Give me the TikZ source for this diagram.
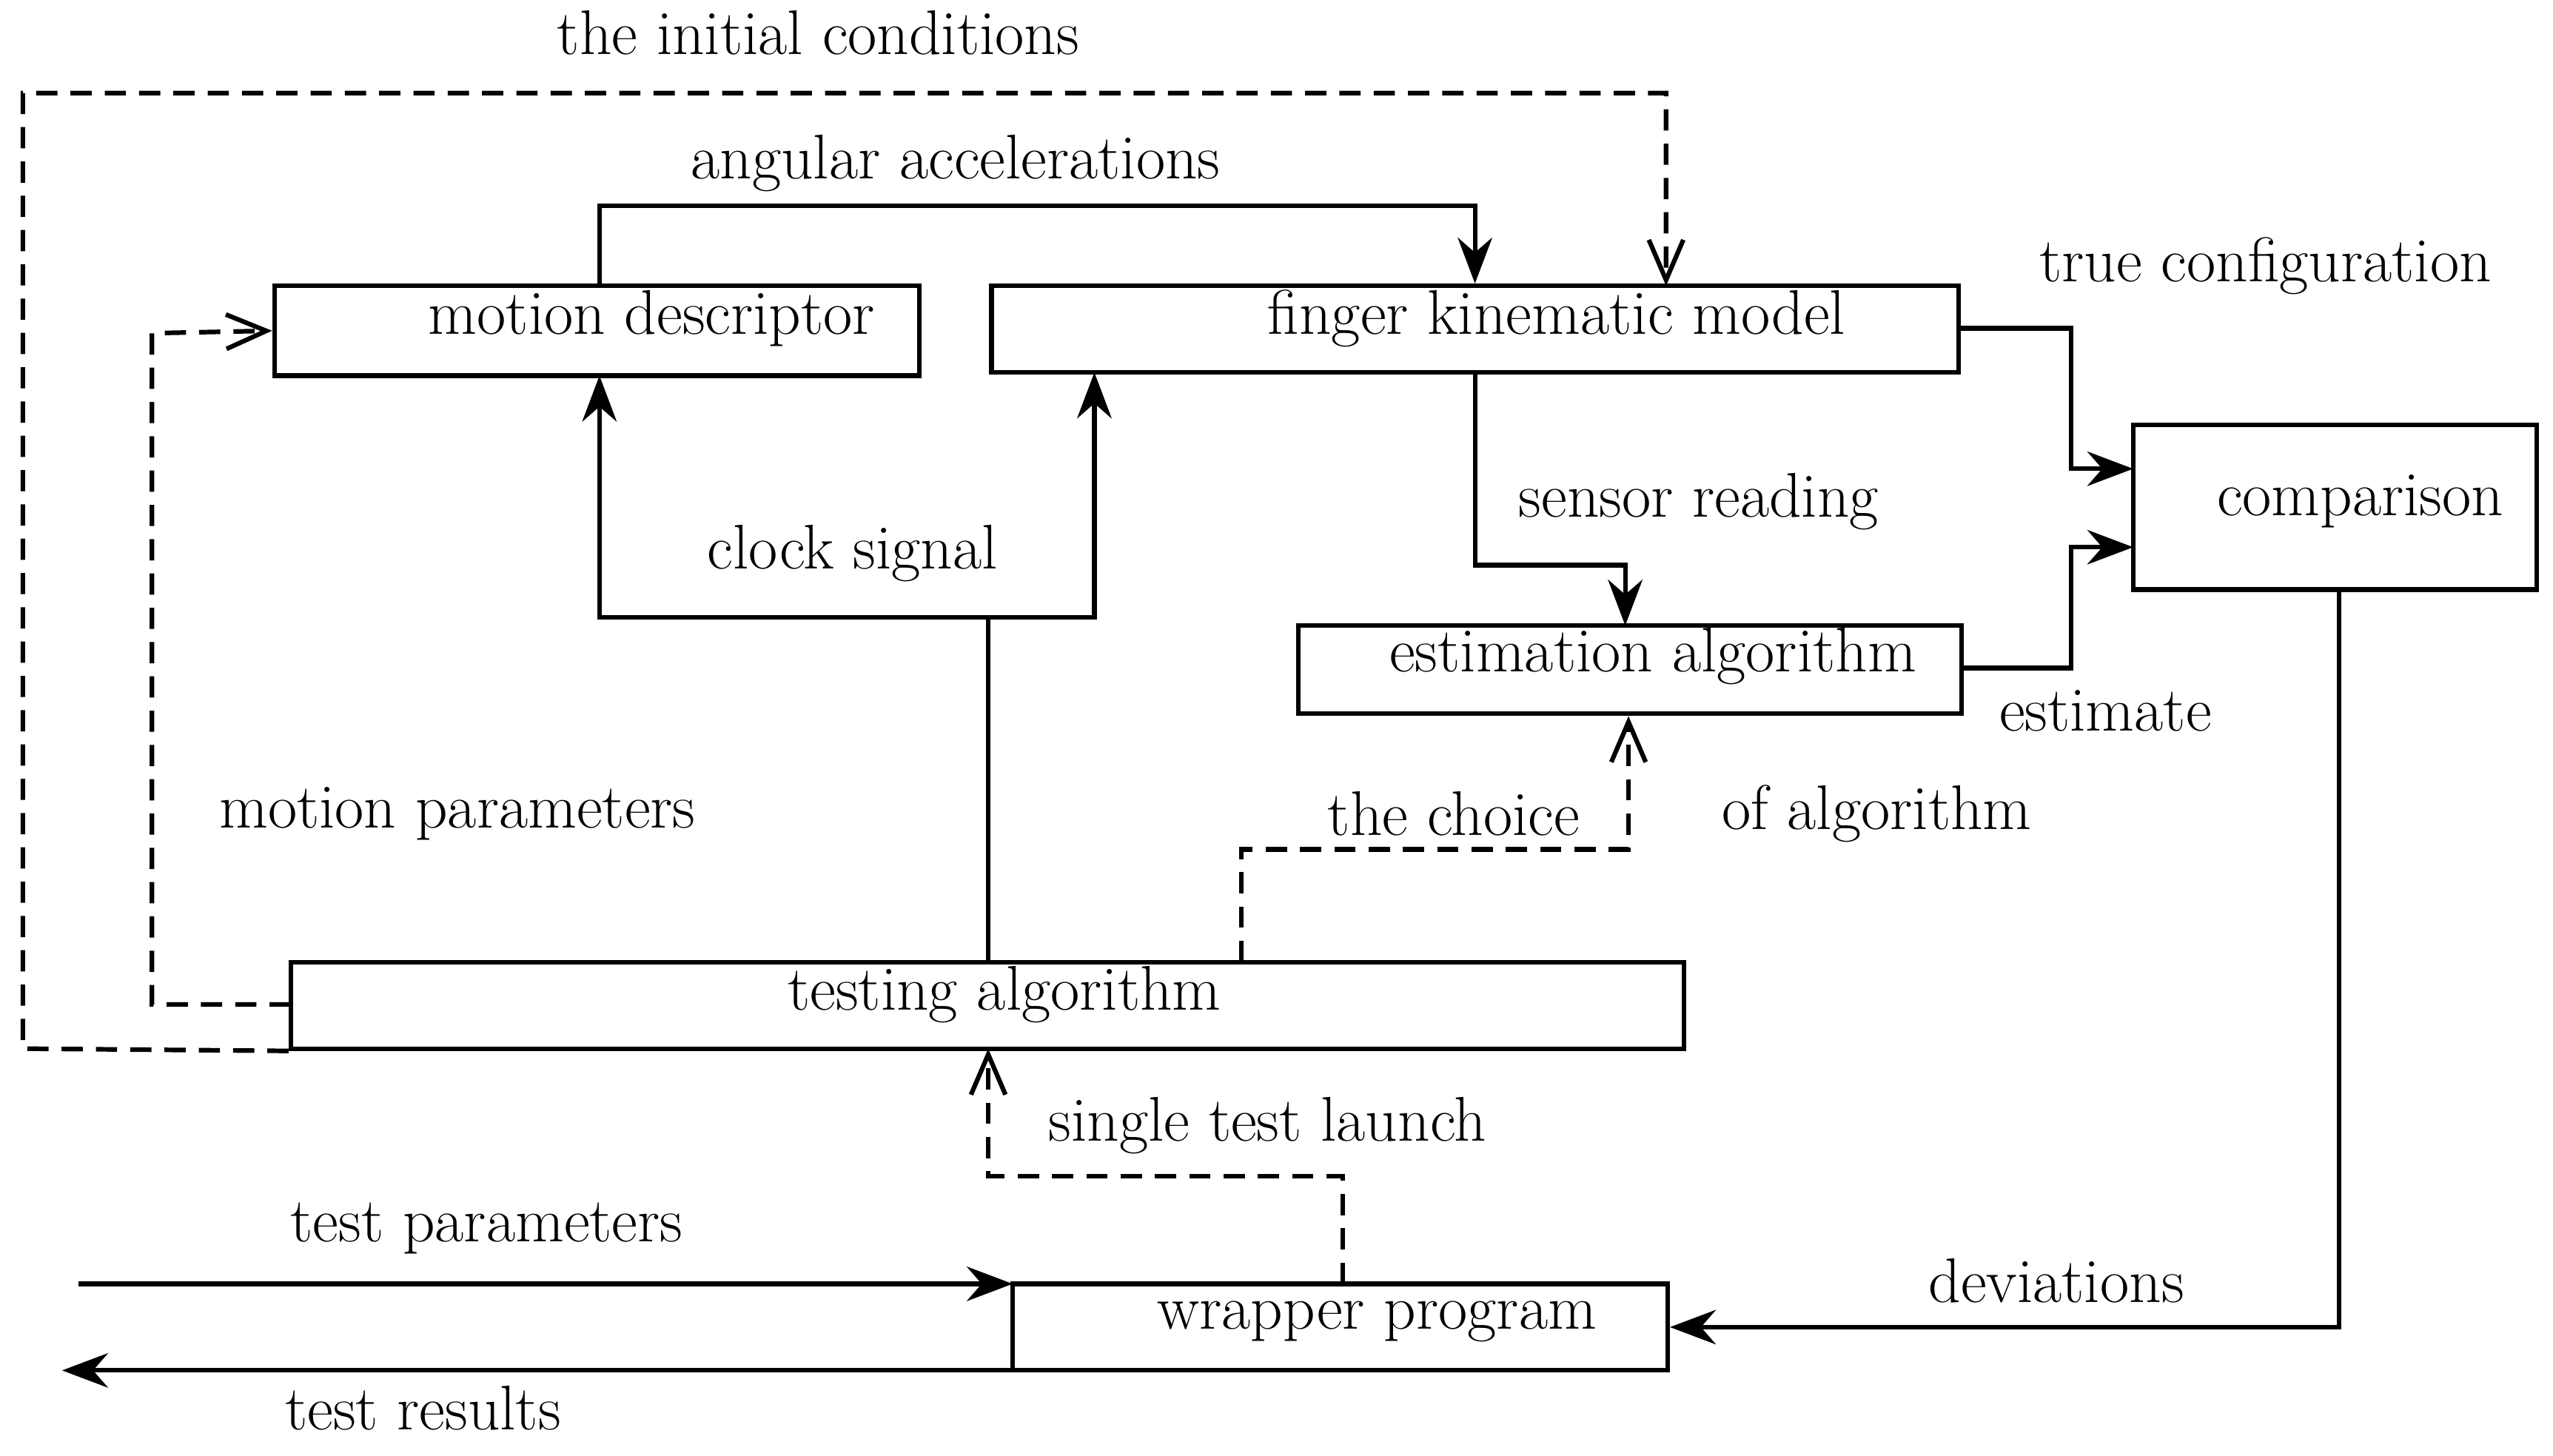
\documentclass[tikz,border=0pt]{standalone}
\usetikzlibrary{arrows.meta}
\begin{document}
\begin{tikzpicture}[x=0.02cm,y=-0.02cm,
  every node/.style={font=\fontsize{22}{26}\selectfont},
  box/.style={draw,line width=1.6pt,rectangle,inner sep=0pt},
  ln/.style={line width=1.6pt},
  sa/.style={ln,-{Stealth[length=16pt,width=12pt]}},
  da/.style={ln,dash pattern=on 0.26cm off 0.16cm,-{Straight Barb[length=14pt,width=12pt,open]}},
  dl/.style={ln,dash pattern=on 0.26cm off 0.16cm},
  lab/.style={inner sep=0pt}]
\useasboundingbox (0,0) rectangle (1563,891);
\fill[white] (0,0) rectangle (1563,891);
% boxes
\node[box,minimum width=7.9cm,minimum height=1.1cm] (md) at (365.5,202.5) {};
\node[box,minimum width=11.84cm,minimum height=1.06cm] (fk) at (903,201.5) {};
\node[box,minimum width=4.94cm,minimum height=2.02cm] (cmp) at (1429.5,310.5) {};
\node[box,minimum width=8.12cm,minimum height=1.08cm] (est) at (998,410) {};
\node[box,minimum width=17.06cm,minimum height=1.06cm] (test) at (604.5,615.5) {};
\node[box,minimum width=8.02cm,minimum height=1.06cm] (wrap) at (820.5,812.5) {};
% box texts
\node[lab] (tmd) at (399,195) {motion descriptor};
\node[lab] (tfk) at (953,195) {finger kinematic model};
\node[lab] (tcmp) at (1445,307) {comparison};
\node[lab] (test_t) at (1012,402) {estimation algorithm};
\node[lab] (ttest) at (615,609) {testing algorithm};
\node[lab] (twrap) at (843,809) {wrapper program};
% labels
\node[lab] (l1) at (501,20) {the initial conditions};
\node[lab] (l2) at (585,100) {angular accelerations};
\node[lab] (l3) at (1387,163) {true configuration};
\node[lab] (l4) at (1040,307) {sensor reading};
\node[lab] (l5) at (522,339) {clock signal};
\node[lab] (l6) at (1289,435) {estimate};
\node[lab] (l7) at (280,498) {motion parameters};
\node[lab] (l8) at (890,498) {the choice};
\node[lab] (l9) at (1149,498) {of algorithm};
\node[lab] (l10) at (776,689) {single test launch};
\node[lab] (l11) at (298,752) {test parameters};
\node[lab] (l12) at (1259,784) {deviations};
\node[lab] (l13) at (259,862) {test results};
% coordinates
\coordinate (tp0) at (48,786);
\coordinate (tpE) at (620,786);
\coordinate (trE) at (38,839);
\coordinate (trS) at (620,839);
% connectors
\draw[sa] (md.north -| 367,0) |- (903,126) -- (fk.north);
\draw[da] (test.south west) -- (14,642) |- (1020,57) -- (1020,175);
\draw[da] (178,615) -| (93,204) -- (md.west);
\draw[ln] (test.north -| 605,0) -- (605,378);
\draw[sa] (605,378) -| (367,230);
\draw[sa] (605,378) -| (670,228);
\draw[sa] (903,228) |- (995,346) -- (995,383);
\draw[sa] (1199,201) -| (1268,287) -- (1306,287);
\draw[sa] (1201,409) -| (1268,335) -- (1306,335);
\draw[da] (760,589) |- (997,520) -- (est.south -| 997,0);
\draw[da] (822,786) |- (605,720) -- (605,642);
\draw[sa] (cmp.south -| 1432,0) |- (wrap.east);
\draw[sa] (tp0) -- (tpE);
\draw[sa] (trS) -- (trE);
\end{tikzpicture}
\end{document}
